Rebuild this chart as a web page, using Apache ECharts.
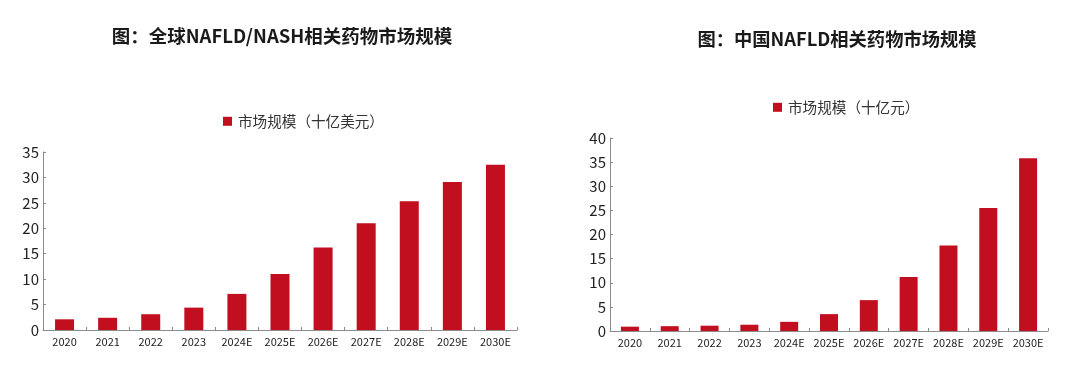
<!DOCTYPE html>
<html>
<head>
<meta charset="utf-8">
<script src="https://cdn.jsdelivr.net/npm/echarts@6/dist/echarts.min.js"></script>
<style>
html,body{margin:0;padding:0;background:#fff;}
#c{width:1080px;height:369px;}
</style>
</head>
<body>
<div id="c"></div>
<script>
const categories = ['2020','2021','2022','2023','2024E','2025E','2026E','2027E','2028E','2029E','2030E'];
const globalTitle = '图：全球NAFLD/NASH相关药物市场规模';
const chinaTitle = '图：中国NAFLD相关药物市场规模';
const globalName = '市场规模（十亿美元）';
const chinaName = '市场规模（十亿元）';
const globalValues = [2.1, 2.4, 3.1, 4.4, 7.1, 11.0, 16.2, 21.0, 25.3, 29.1, 32.5];
const chinaValues = [0.9, 1.0, 1.1, 1.3, 1.9, 3.5, 6.4, 11.2, 17.7, 25.5, 35.8];

const FONT = '"Noto Sans CJK SC", "Noto Sans", sans-serif';
const RED = '#C20F1F';
const AXIS = '#8c8c8c';

function xAxis(gi){
  return {
    type:'category', gridIndex:gi, data:categories,
    axisLine:{lineStyle:{color:AXIS,width:1}},
    axisTick:{show:true,inside:true,length:3,lineStyle:{color:AXIS}},
    axisLabel:{color:'#222',fontSize:11,margin:6,fontFamily:FONT,interval:0}
  };
}
function yAxis(gi,max){
  return {
    type:'value', gridIndex:gi, min:0, max:max, interval:5,
    axisLine:{show:true,lineStyle:{color:AXIS,width:1}},
    axisTick:{show:true,inside:true,length:3,lineStyle:{color:AXIS}},
    splitLine:{show:false},
    axisLabel:{color:'#222',fontSize:15,margin:4,fontFamily:FONT}
  };
}

const chart = echarts.init(document.getElementById('c'));
chart.setOption({
  animation:false,
  backgroundColor:'#fff',
  title:[
    {text:globalTitle,left:277,top:22,textAlign:'center',
     textStyle:{fontSize:18.5,fontWeight:'bold',color:'#1a1a1a',fontFamily:FONT}},
    {text:chinaTitle,left:832,top:25,textAlign:'center',
     textStyle:{fontSize:18.3,fontWeight:'bold',color:'#1a1a1a',fontFamily:FONT}}
  ],
  legend:[
    {data:[globalName],left:218,top:109,itemWidth:9,itemHeight:9,itemGap:5,icon:'rect',
     textStyle:{fontSize:14.6,color:'#333',fontFamily:FONT,padding:[0,0,0,1]}},
    {data:[chinaName],left:768,top:95,itemWidth:9,itemHeight:9,itemGap:5,icon:'rect',
     textStyle:{fontSize:14.6,color:'#333',fontFamily:FONT,padding:[0,0,0,1]}}
  ],
  grid:[
    {left:43,top:152,width:474,height:178},
    {left:610,top:138,width:438,height:193}
  ],
  xAxis:[xAxis(0),xAxis(1)],
  yAxis:[yAxis(0,35),yAxis(1,40)],
  series:[
    {name:globalName,type:'bar',xAxisIndex:0,yAxisIndex:0,data:globalValues,
     barWidth:19,itemStyle:{color:RED}},
    {name:chinaName,type:'bar',xAxisIndex:1,yAxisIndex:1,data:chinaValues,
     barWidth:18,itemStyle:{color:RED}}
  ]
});
</script>
</body>
</html>
